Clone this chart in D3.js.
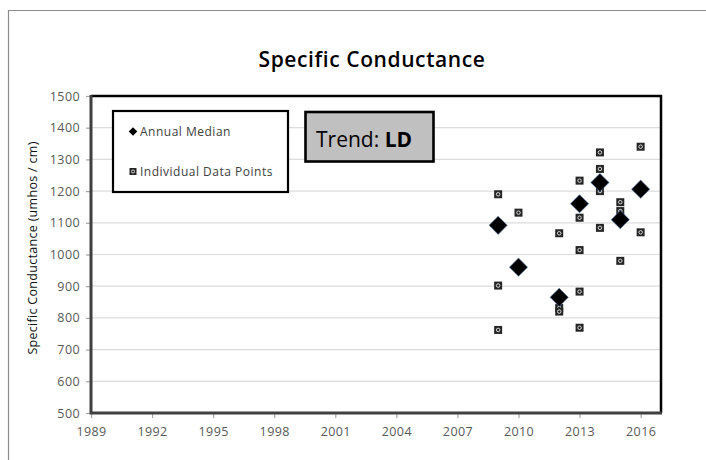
<!DOCTYPE html>
<html lang="en">
  <head>
    <meta charset="utf-8" />
    <title>Specific Conductance</title>
    <script src="https://d3js.org/d3.v7.min.js"></script>
    <style>
      body { margin: 0; background: #fff; }
      text { font-family: "Open Sans", "DejaVu Sans", sans-serif; }
    </style>
  </head>
  <body>
    <svg id="chart" width="706" height="460"></svg>

    <script>
      // annual medians
      const medianYears = [2009, 2010, 2012, 2013, 2014, 2015, 2016];
      const medianValues = [1092, 960, 865, 1160, 1227, 1110, 1206];

      // individual samples
      const pointYears = [2009, 2009, 2009, 2010, 2012, 2012, 2012,
        2013, 2013, 2013, 2013, 2013, 2014, 2014, 2014, 2014,
        2015, 2015, 2015, 2016, 2016];
      const pointValues = [1190, 902, 762, 1132, 1067, 831, 820,
        1233, 1116, 1014, 883, 769, 1322, 1270, 1200, 1084,
        1165, 1137, 980, 1340, 1070];

      const xTicks = [1989, 1992, 1995, 1998, 2001, 2004, 2007, 2010, 2013, 2016];
      const yTicks = [500, 600, 700, 800, 900, 1000, 1100, 1200, 1300, 1400, 1500];

      const svg = d3.select("#chart");
      const pLeft = 91, pRight = 661, pTop = 96, pBottom = 413;

      // outer frame (runs off the picture at right and bottom)
      svg.append("path")
        .attr("d", "M8.5,470 V10.5 H720")
        .attr("fill", "none")
        .attr("stroke", "#8c8c8c")
        .attr("stroke-width", 1.2);

      const x = d3.scaleLinear().domain([1989, 2017]).range([pLeft, pRight]);
      const y = d3.scaleLinear().domain([500, 1500]).range([pBottom, pTop]);

      // gridlines
      svg.append("g")
        .selectAll("line")
        .data(yTicks.slice(1))
        .enter()
        .append("line")
        .attr("x1", pLeft).attr("x2", pRight)
        .attr("y1", d => y(d)).attr("y2", d => y(d))
        .attr("stroke", "#dcdcdc")
        .attr("stroke-width", 1.2);

      // plot border top/right
      svg.append("path")
        .attr("d", `M${pLeft},${pTop} H${pRight} V${pBottom}`)
        .attr("fill", "none")
        .attr("stroke", "#000")
        .attr("stroke-width", 2.5);

      const yAxis = svg.append("g")
        .attr("transform", `translate(${pLeft},0)`)
        .call(d3.axisLeft(y).tickValues(yTicks).tickSize(5).tickPadding(6).tickFormat(d3.format("d")));
      const xAxis = svg.append("g")
        .attr("transform", `translate(0,${pBottom})`)
        .call(d3.axisBottom(x).tickValues(xTicks).tickSize(5).tickPadding(9).tickFormat(d3.format("d")));

      [yAxis, xAxis].forEach(function(ax) {
        ax.select(".domain").remove();
        ax.selectAll(".tick line").attr("stroke", "#a6a6a6").attr("stroke-width", 1.2);
        ax.selectAll(".tick text")
          .attr("fill", "#595959")
          .style("font-size", "12.5px")
          .style("letter-spacing", "0.4px")
          .style("font-family", "'Open Sans', sans-serif");
      });

      // axis lines (thick dark gray)
      svg.append("path")
        .attr("d", `M${pLeft},${pTop - 1} V${pBottom} H${pRight + 1}`)
        .attr("fill", "none")
        .attr("stroke", "#404040")
        .attr("stroke-width", 3);

      // title
      svg.append("text")
        .attr("x", 372)
        .attr("y", 67)
        .attr("text-anchor", "middle")
        .attr("fill", "#000")
        .style("font-size", "21px")
        .style("letter-spacing", "0.6px")
        .style("font-weight", "600")
        .text("Specific Conductance");

      // y label
      svg.append("text")
        .attr("transform", "translate(37,248) rotate(-90)")
        .attr("text-anchor", "middle")
        .attr("fill", "#111")
        .style("font-size", "12.5px")
        .style("letter-spacing", "0.3px")
        .text("Specific Conductance (umhos / cm)");

      function drawSquare(g, cx, cy, s) {
        g.append("rect")
          .attr("x", cx - s / 2).attr("y", cy - s / 2)
          .attr("width", s).attr("height", s)
          .attr("fill", "#262626");
        g.append("circle")
          .attr("cx", cx).attr("cy", cy).attr("r", s * 0.22)
          .attr("fill", "none")
          .attr("stroke", "#e6e6e6")
          .attr("stroke-width", 0.9);
      }

      const diamond = d3.symbol().type(d3.symbolSquare);

      // individual data points
      const pts = svg.append("g");
      pointYears.forEach(function(yr, i) {
        drawSquare(pts, x(yr), y(pointValues[i]), 8);
      });

      // annual medians
      svg.append("g")
        .selectAll("path")
        .data(medianYears)
        .enter()
        .append("path")
        .attr("d", diamond.size(165))
        .attr("transform", (d, i) => `translate(${x(d)},${y(medianValues[i])}) rotate(45)`)
        .attr("fill", "#000")
        .attr("stroke", "#4f6fa6")
        .attr("stroke-width", 0.6);

      // legend
      const leg = svg.append("g");
      leg.append("rect")
        .attr("x", 113).attr("y", 111)
        .attr("width", 175).attr("height", 81)
        .attr("fill", "#fff")
        .attr("stroke", "#000")
        .attr("stroke-width", 2.2);
      leg.append("path")
        .attr("d", diamond.size(36))
        .attr("transform", "translate(133,131.5) rotate(45)")
        .attr("fill", "#000");
      leg.append("text")
        .attr("x", 140).attr("y", 135.5)
        .attr("fill", "#404040")
        .style("font-size", "12px")
        .style("letter-spacing", "0.5px")
        .text("Annual Median");
      drawSquare(leg, 133, 171.5, 7);
      leg.append("text")
        .attr("x", 140).attr("y", 175.5)
        .attr("fill", "#404040")
        .style("font-size", "12px")
        .style("letter-spacing", "0.5px")
        .text("Individual Data Points");

      // trend box
      svg.append("rect")
        .attr("x", 305.5).attr("y", 112)
        .attr("width", 128).attr("height", 49.5)
        .attr("fill", "#c0c0c0")
        .attr("stroke", "#000")
        .attr("stroke-width", 2.6);
      const tr = svg.append("text")
        .attr("x", 316).attr("y", 147)
        .attr("fill", "#000")
        .style("font-size", "21px");
      tr.append("tspan").text("Trend: ");
      tr.append("tspan").style("font-weight", "700").text("LD");
    </script>
  </body>
</html>
